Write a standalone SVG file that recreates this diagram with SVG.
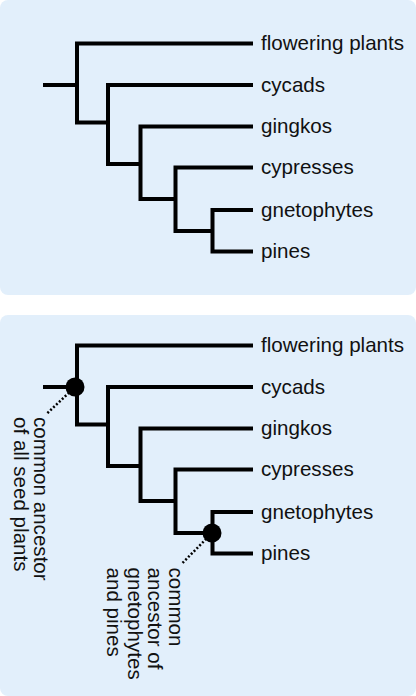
<svg xmlns="http://www.w3.org/2000/svg" width="416" height="696" viewBox="0 0 416 696">
  <style>
    .panel { fill: #e2effb; }
    .branch { fill: none; stroke: #000; stroke-width: 4; stroke-linejoin: miter; }
    .lbl { font-family: "Liberation Sans", Arial, sans-serif; font-size: 20.6px; fill: #111; }
    .dot { fill: #000; }
    .lead { fill: none; stroke: #000; stroke-width: 2.5; stroke-dasharray: 2 2; }
  </style>
  <defs>
    <g id="tree">
      <path class="branch" d="M43,85 H77"/>
      <path class="branch" d="M253,43.5 H77 V122.5 H108"/>
      <path class="branch" d="M253,85 H108 V164 H140.5"/>
      <path class="branch" d="M253,126.5 H140.5 V199 H175.5"/>
      <path class="branch" d="M253,167.5 H175.5 V231 H212.5"/>
      <path class="branch" d="M253,210 H212.5 V251.5 H253"/>
    </g>
  </defs>

  <rect class="panel" x="0" y="0" width="416" height="295" rx="8"/>
  <rect class="panel" x="0" y="315" width="416" height="381" rx="8"/>

  <g id="connectors">
    <use href="#tree"/>
    <use href="#tree" transform="translate(0,302)"/>
    <path class="lead" d="M75,387 L47,413.5"/>
    <path class="lead" d="M212,533 L181.5,564"/>
  </g>

  <g id="panel1-labels">
    <g id="p1-flowering"><text class="lbl" x="261" y="50">flowering plants</text></g>
    <g id="p1-cycads"><text class="lbl" x="261" y="91.5">cycads</text></g>
    <g id="p1-gingkos"><text class="lbl" x="261" y="133">gingkos</text></g>
    <g id="p1-cypresses"><text class="lbl" x="261" y="174">cypresses</text></g>
    <g id="p1-gnetophytes"><text class="lbl" x="261" y="216.5">gnetophytes</text></g>
    <g id="p1-pines"><text class="lbl" x="261" y="258">pines</text></g>
  </g>

  <g id="panel2-labels">
    <g id="p2-flowering"><text class="lbl" x="261" y="352">flowering plants</text></g>
    <g id="p2-cycads"><text class="lbl" x="261" y="393.5">cycads</text></g>
    <g id="p2-gingkos"><text class="lbl" x="261" y="435">gingkos</text></g>
    <g id="p2-cypresses"><text class="lbl" x="261" y="476">cypresses</text></g>
    <g id="p2-gnetophytes"><text class="lbl" x="261" y="518.5">gnetophytes</text></g>
    <g id="p2-pines"><text class="lbl" x="261" y="560">pines</text></g>
  </g>

  <g id="ancestor-all">
    <circle class="dot" cx="75" cy="387" r="9.5"/>
    <text class="lbl" transform="translate(33.5,417) rotate(90)"><tspan x="0" y="0">common ancestor</tspan><tspan x="0" y="20">of all seed plants</tspan></text>
  </g>

  <g id="ancestor-gp">
    <circle class="dot" cx="212" cy="533" r="9.5"/>
    <text class="lbl" transform="translate(168.5,567.5) rotate(90)"><tspan x="0" y="0">common</tspan><tspan x="0" y="20.5">ancestor of</tspan><tspan x="0" y="41">gnetophytes</tspan><tspan x="0" y="61.5">and pines</tspan></text>
  </g>
</svg>
